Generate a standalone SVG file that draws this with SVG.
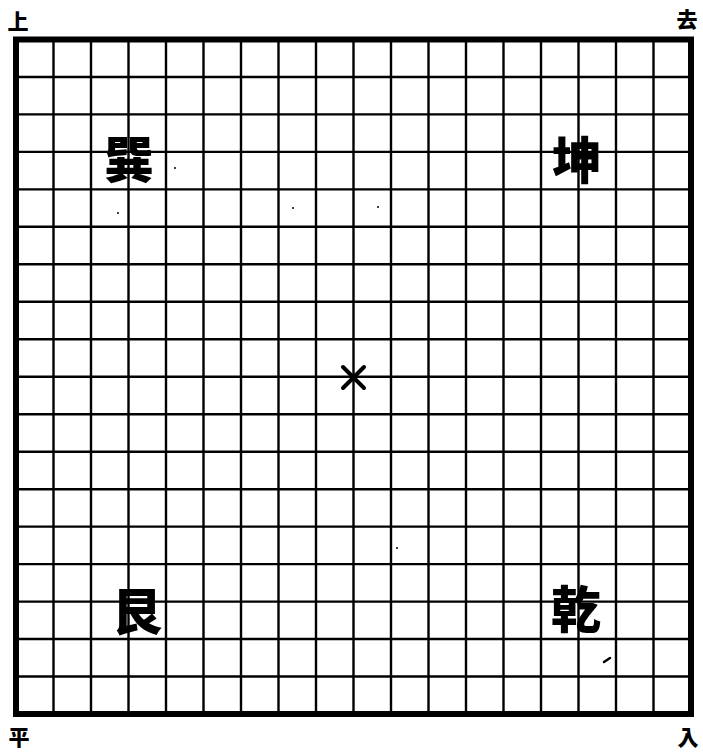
<svg xmlns="http://www.w3.org/2000/svg" width="703" height="754" viewBox="0 0 703 754">
<style>
.grid{stroke:#000;stroke-width:2.4;fill:none}
.border{stroke:#000;stroke-width:6;fill:none}
.big{font-family:"Noto Sans CJK TC","Noto Sans CJK SC",sans-serif;font-weight:900;font-size:50px;text-anchor:middle;dominant-baseline:central;fill:#000}
.small{font-family:"Noto Sans CJK TC","Noto Sans CJK SC",sans-serif;font-weight:900;font-size:21px;text-anchor:middle;dominant-baseline:central;fill:#000}
</style>
<rect width="703" height="754" fill="#fff"/>
<g id="board">
<path class="grid" d="M53.5 39.5V714M91 39.5V714M128.5 39.5V714M166 39.5V714M203.5 39.5V714M241 39.5V714M278.5 39.5V714M316 39.5V714M353.5 39.5V714M391 39.5V714M428.5 39.5V714M466 39.5V714M503.5 39.5V714M541 39.5V714M578.5 39.5V714M616 39.5V714M653.5 39.5V714
M16 77H691M16 114.4H691M16 151.9H691M16 189.4H691M16 226.8H691M16 264.3H691M16 301.8H691M16 339.3H691M16 376.7H691M16 414.2H691M16 451.7H691M16 489.2H691M16 526.6H691M16 564.1H691M16 601.6H691M16 639H691M16 676.5H691"/>
<rect class="border" x="16" y="39.5" width="675" height="674.5"/>
</g>
<g id="center-mark">
<path d="M343 367L364 388M364 367L343 388" stroke="#000" stroke-width="4" stroke-linecap="round"/>
</g>
<g id="label-shang"><text class="small" x="18" y="20">上</text></g>
<g id="label-qu"><text class="small" x="687" y="18">去</text></g>
<g id="label-ping"><text class="small" x="19" y="736">平</text></g>
<g id="label-ru"><text class="small" x="688" y="736">入</text></g>
<g id="xun"><text class="big" x="129" y="156">巽</text></g>
<g id="kun"><text class="big" x="577" y="157">坤</text></g>
<g id="gen"><text class="big" x="137" y="608">艮</text></g>
<g id="qian"><text class="big" x="576" y="606">乾</text></g>
<g id="specks" fill="#000">
<circle cx="175" cy="168" r="1"/>
<circle cx="118" cy="213" r="1"/>
<circle cx="293" cy="208" r="1"/>
<circle cx="378" cy="207" r="1"/>
<circle cx="397" cy="548" r="1"/>
<path d="M604 662L610 658" stroke="#000" stroke-width="2.5" stroke-linecap="round"/>
</g>
</svg>
